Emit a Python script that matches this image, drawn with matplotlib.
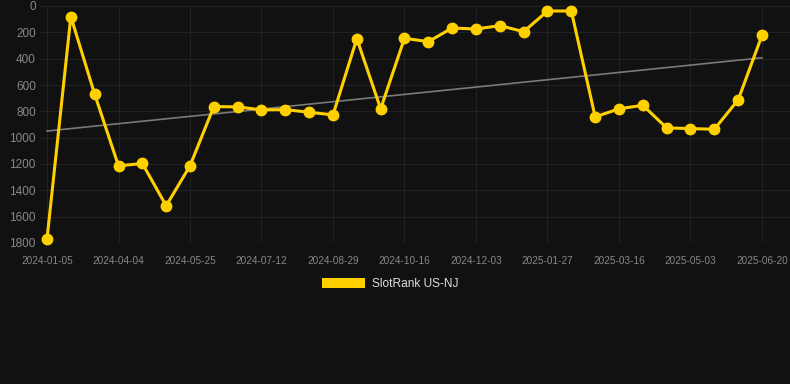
import matplotlib
matplotlib.use("Agg")
import matplotlib.pyplot as plt
import numpy as np
from matplotlib.patches import Patch

tick_labels = ["2024-01-05", "2024-04-04", "2024-05-25", "2024-07-12", "2024-08-29",
               "2024-10-16", "2024-12-03", "2025-01-27", "2025-03-16", "2025-05-03", "2025-06-20"]
ranks = [1770, 80, 670, 1214, 1196, 1517, 1214, 764, 766, 789, 787, 807, 827, 248, 781,
         245, 271, 167, 175, 149, 195, 38, 38, 842, 781, 754, 926, 931, 936, 713, 223]
series_name = "SlotRank US-NJ"

plt.rcParams["font.family"] = ["Liberation Sans", "DejaVu Sans"]

W, H = 790, 384
fig = plt.figure(figsize=(W / 100, H / 100), dpi=100)
fig.patch.set_facecolor("#111111")
ax = fig.add_axes([40 / W, 1 - 243 / H, 750 / W, 237 / H])
ax.set_facecolor("#111111")

x = np.arange(len(ranks))
coef = np.polyfit(x, ranks, 1)
ax.plot(x, np.polyval(coef, x), color="#7a7a7a", lw=1.2, zorder=2)
ax.plot(x, ranks, color="#FFD000", lw=2.2, marker="o", ms=7.5, zorder=3, clip_on=False)

ax.set_ylim(1800, 0)
ax.set_xlim(-7 / 23.83, 30 + 28 / 23.83)
ax.set_yticks(np.arange(0, 1801, 200))
ax.set_xticks(x[::3])
ax.set_xticklabels(tick_labels)
ax.grid(True, color="#222222", lw=0.7)
ax.set_axisbelow(True)
for s in ax.spines.values():
    s.set_visible(False)
ax.tick_params(axis="both", colors="#888888", length=0)
ax.tick_params(axis="x", pad=9, labelsize=7.2)
ax.tick_params(axis="y", pad=3, labelsize=8.5)

fig.legend(handles=[Patch(facecolor="#FFD000", edgecolor="none")], labels=[series_name],
           loc="center", bbox_to_anchor=(390 / W, 1 - 284 / H), frameon=False,
           handlelength=3.6, handleheight=1.0, labelcolor="#dddddd", fontsize=8.6,
           handletextpad=0.6)

fig.savefig("out.png", dpi=100, facecolor=fig.get_facecolor())
